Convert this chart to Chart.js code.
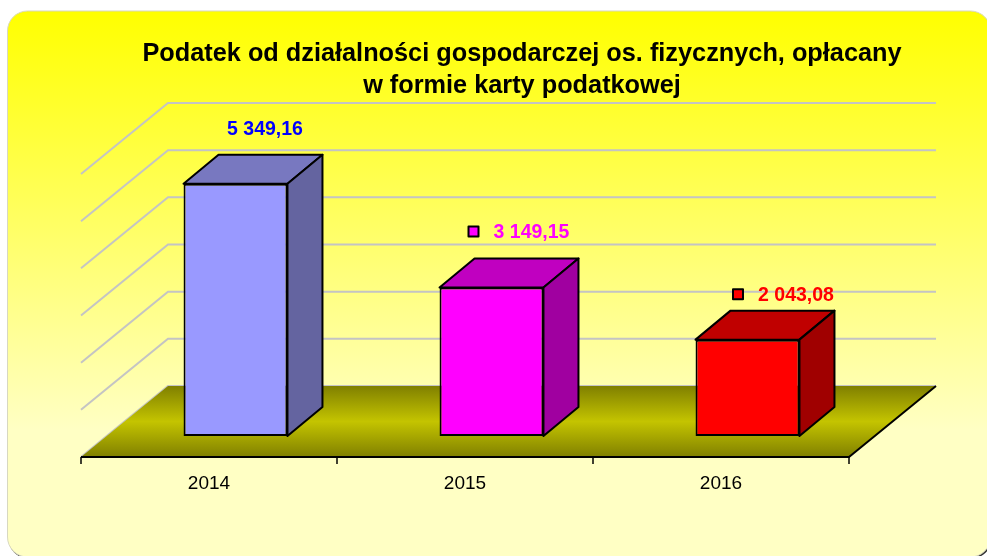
<!DOCTYPE html>
<html>
<head>
<meta charset="utf-8">
<style>html,body{margin:0;padding:0;background:#fff}canvas{display:block}</style>
<script src="https://cdn.jsdelivr.net/npm/chart.js@4"></script>
</head>
<body>
<canvas id="c" width="987" height="556"></canvas>
<script>
const categories = ['2014', '2015', '2016'];
const values = [5349.16, 3149.15, 2043.08];
const titleLines = ['Podatek od działalności gospodarczej os. fizycznych, opłacany', 'w formie karty podatkowej'];
const frontColors = ['#9999ff', '#ff00ff', '#ff0000'];
const topColors = ['#7878c0', '#c000c0', '#c00000'];
const sideColors = ['#6464a0', '#a000a0', '#a00000'];
const labelColors = ['#0000ff', '#ff00ff', '#ff0000'];
const showKey = [false, true, true];
const yTicks = [0, 1000, 2000, 3000, 4000, 5000, 6000];

const FRONT = {dx: -26.5, dy: 21};
const BACK = {dx: 60.5, dy: -50};
const BAR = {dx: 35, dy: -29};
const LABEL = [{x: 29.5, y: -54}, {x: 40, y: -55}, {x: 48.5, y: -44.5}];

const fmt = v => {
  const [a, b] = v.toFixed(2).split('.');
  return a.replace(/\B(?=(\d{3})+$)/g, ' ') + ',' + b;
};
const poly = (ctx, pts) => {
  ctx.beginPath();
  pts.forEach((p, i) => i ? ctx.lineTo(p[0], p[1]) : ctx.moveTo(p[0], p[1]));
  ctx.closePath();
};

const scene = {
  id: 'scene',
  afterLayout(chart) {
    chart.titleBlock.left += 30.5;
    chart.titleBlock.right += 30.5;
  },
  beforeDraw(chart) {
    const ctx = chart.ctx;
    ctx.save();
    ctx.beginPath();
    ctx.roundRect(8.5, 12.5, 983, 546, 20);
    ctx.fillStyle = '#333';
    ctx.fill();
    const g = ctx.createLinearGradient(0, 11, 0, 430);
    g.addColorStop(0, '#ffff00');
    g.addColorStop(1, '#ffffc4');
    ctx.beginPath();
    ctx.roundRect(7.5, 11, 983, 546, 20);
    ctx.fillStyle = g;
    ctx.fill();
    ctx.strokeStyle = '#d8d8c0';
    ctx.lineWidth = 1;
    ctx.stroke();
    ctx.restore();
  },
  beforeDatasetsDraw(chart) {
    const ctx = chart.ctx, y = chart.scales.y, a = chart.chartArea;
    const fl = a.left + FRONT.dx, fr = a.right + FRONT.dx;
    const bl = a.left + BACK.dx, br = a.right + BACK.dx;
    const front = v => y.getPixelForValue(v) + FRONT.dy;
    const back = v => y.getPixelForValue(v) + BACK.dy;
    ctx.save();
    ctx.strokeStyle = '#c4c4c4';
    ctx.lineWidth = 2;
    yTicks.forEach(v => {
      ctx.beginPath();
      ctx.moveTo(fl, front(v));
      ctx.lineTo(bl, back(v));
      ctx.lineTo(br, back(v));
      ctx.stroke();
    });
    const y0f = front(0), y0b = back(0);
    const g = ctx.createLinearGradient(0, y0b, 0, y0f);
    g.addColorStop(0, '#808000');
    g.addColorStop(0.5, '#c4c400');
    g.addColorStop(1, '#808000');
    poly(ctx, [[fl, y0f], [bl, y0b], [br, y0b], [fr, y0f]]);
    ctx.fillStyle = g;
    ctx.fill();
    ctx.strokeStyle = '#000';
    ctx.lineWidth = 2;
    ctx.beginPath();
    ctx.moveTo(fl, y0f);
    ctx.lineTo(fr, y0f);
    ctx.lineTo(br, y0b);
    ctx.stroke();
    ctx.lineWidth = 1.5;
    const step = (fr - fl) / categories.length;
    for (let i = 0; i <= categories.length; i++) {
      ctx.beginPath();
      ctx.moveTo(fl + i * step, y0f);
      ctx.lineTo(fl + i * step, y0f + 7);
      ctx.stroke();
    }
    ctx.restore();
  },
  afterDatasetsDraw(chart) {
    const ctx = chart.ctx, bars = chart.getDatasetMeta(0).data;
    ctx.save();
    ctx.strokeStyle = '#000';
    ctx.lineWidth = 2;
    ctx.lineJoin = 'round';
    bars.forEach((b, i) => {
      const {x, y, base, width} = b.getProps(['x', 'y', 'base', 'width']);
      const l = x - width / 2, r = x + width / 2;
      poly(ctx, [[l, y], [l + BAR.dx, y + BAR.dy], [r + BAR.dx, y + BAR.dy], [r, y]]);
      ctx.fillStyle = topColors[i];
      ctx.fill();
      ctx.stroke();
      poly(ctx, [[r, y], [r + BAR.dx, y + BAR.dy], [r + BAR.dx, base + BAR.dy], [r, base]]);
      ctx.fillStyle = sideColors[i];
      ctx.fill();
      ctx.stroke();
    });
    ctx.font = 'bold 19.5px "Liberation Sans", Arial, sans-serif';
    ctx.textAlign = 'center';
    ctx.textBaseline = 'middle';
    bars.forEach((b, i) => {
      const {x, y} = b.getProps(['x', 'y']);
      const tx = x + LABEL[i].x, ty = y + LABEL[i].y;
      ctx.fillStyle = labelColors[i];
      ctx.fillText(fmt(values[i]), tx, ty);
      if (showKey[i]) {
        const kx = tx - 58, ky = ty - 1;
        ctx.fillStyle = frontColors[i];
        ctx.fillRect(kx - 5, ky - 5, 10, 10);
        ctx.strokeRect(kx - 5, ky - 5, 10, 10);
      }
    });
    ctx.restore();
  }
};

new Chart(document.getElementById('c'), {
  type: 'bar',
  data: {
    labels: categories,
    datasets: [{
      data: values,
      backgroundColor: frontColors,
      borderColor: '#000',
      borderWidth: 2,
      borderSkipped: false,
      barPercentage: 0.406,
      categoryPercentage: 1
    }]
  },
  options: {
    responsive: false,
    animation: false,
    layout: {padding: {left: 107.5, right: 111.5, top: 0, bottom: 60}},
    plugins: {
      legend: {display: false},
      tooltip: {enabled: false},
      title: {
        display: true,
        text: titleLines,
        color: '#000',
        font: {family: '"Liberation Sans", Arial, sans-serif', size: 25.3, weight: 'bold', lineHeight: 1.265},
        padding: {top: 38.5, bottom: 50.5}
      }
    },
    scales: {
      x: {
        grid: {display: false, drawTicks: false},
        border: {display: false},
        afterFit(s) { s.height = 60; },
        ticks: {
          color: '#000',
          padding: 36,
          labelOffset: FRONT.dx,
          autoSkip: false,
          maxRotation: 0,
          font: {family: '"Liberation Sans", Arial, sans-serif', size: 19}
        }
      },
      y: {display: false, min: 0, max: 6000}
    }
  },
  plugins: [scene]
});
</script>
</body>
</html>
